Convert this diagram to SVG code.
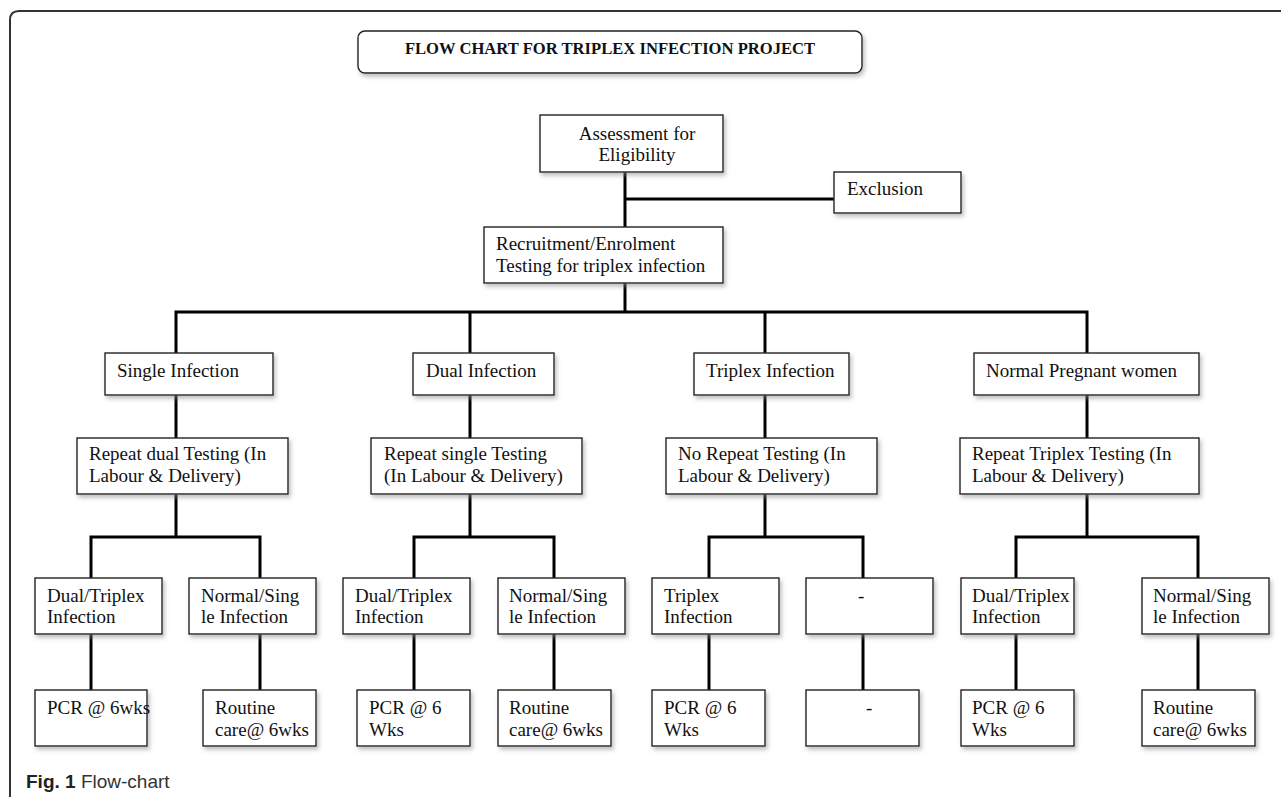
<svg xmlns="http://www.w3.org/2000/svg" width="1281" height="797" viewBox="0 0 1281 797">
<defs>
<filter id="sh" x="-10%" y="-10%" width="130%" height="140%">
<feDropShadow dx="2" dy="3" stdDeviation="2" flood-color="#888" flood-opacity="0.55"/>
</filter>
<style>
.box{fill:#fff;stroke:#222;stroke-width:1.4;filter:url(#sh)}
.t{font-family:"Liberation Serif","Times New Roman",serif;font-size:19px;fill:#111}
.title{font-family:"Liberation Serif","Times New Roman",serif;font-size:16.6px;font-weight:bold;fill:#111}
.c{fill:none;stroke:#000;stroke-width:3;stroke-linecap:square}
.cap{font-family:"Liberation Sans",Arial,sans-serif;font-size:19px;fill:#333}
</style>
</defs>
<rect width="1281" height="797" fill="#fff"/>
<path d="M10 797 L10 20 Q10 11 19 11 L1281 11" fill="none" stroke="#333" stroke-width="2"/>

<g id="connectors">
<path class="c" d="M625 172 V227 M625 199 H834"/>
<path class="c" d="M625 283 V312 M176 312 H1087 M176 312 V353 M470 312 V353 M765 312 V353 M1087 312 V353"/>
<path class="c" d="M176 395 V438 M470 395 V438 M765 395 V438 M1087 395 V438"/>
<path class="c" d="M176 494 V537 M91 537 H260 M91 537 V578 M260 537 V578"/>
<path class="c" d="M470 494 V537 M414 537 H554 M414 537 V578 M554 537 V578"/>
<path class="c" d="M765 494 V537 M709 537 H863 M709 537 V578 M863 537 V578"/>
<path class="c" d="M1087 494 V537 M1016 537 H1198 M1016 537 V578 M1198 537 V578"/>
<path class="c" d="M91 634 V690 M260 634 V690 M414 634 V690 M554 634 V690 M709 634 V690 M863 634 V690 M1016 634 V690 M1198 634 V690"/>
</g>

<g id="title">
<rect class="box" x="358" y="31" width="504" height="42" rx="7"/>
<text class="title" x="610" y="54" text-anchor="middle">FLOW CHART FOR TRIPLEX INFECTION PROJECT</text>
</g>

<g id="assessment">
<rect class="box" x="540" y="115" width="183" height="57"/>
<text class="t" x="637" y="140" text-anchor="middle">Assessment for</text>
<text class="t" x="637" y="161" text-anchor="middle">Eligibility</text>
</g>

<g id="exclusion">
<rect class="box" x="834" y="172" width="127" height="41"/>
<text class="t" x="847" y="195">Exclusion</text>
</g>

<g id="recruitment">
<rect class="box" x="484" y="227" width="239" height="56"/>
<text class="t" x="496" y="250">Recruitment/Enrolment</text>
<text class="t" x="496" y="272">Testing for triplex infection</text>
</g>

<g id="single">
<rect class="box" x="105" y="353" width="168" height="42"/>
<text class="t" x="117" y="377">Single Infection</text>
</g>
<g id="dual">
<rect class="box" x="413" y="353" width="141" height="42"/>
<text class="t" x="426" y="377">Dual Infection</text>
</g>
<g id="triplex">
<rect class="box" x="694" y="353" width="155" height="42"/>
<text class="t" x="706" y="377">Triplex Infection</text>
</g>
<g id="normal">
<rect class="box" x="974" y="353" width="225" height="42"/>
<text class="t" x="986" y="377">Normal Pregnant women</text>
</g>

<g id="repeat-dual">
<rect class="box" x="77" y="438" width="211" height="56"/>
<text class="t" x="89" y="460">Repeat dual Testing (In</text>
<text class="t" x="89" y="482">Labour &amp; Delivery)</text>
</g>
<g id="repeat-single">
<rect class="box" x="371" y="438" width="211" height="56"/>
<text class="t" x="384" y="460">Repeat single Testing</text>
<text class="t" x="384" y="482">(In Labour &amp; Delivery)</text>
</g>
<g id="no-repeat">
<rect class="box" x="666" y="438" width="211" height="56"/>
<text class="t" x="678" y="460">No Repeat Testing (In</text>
<text class="t" x="678" y="482">Labour &amp; Delivery)</text>
</g>
<g id="repeat-triplex">
<rect class="box" x="960" y="438" width="239" height="56"/>
<text class="t" x="972" y="460">Repeat Triplex Testing (In</text>
<text class="t" x="972" y="482">Labour &amp; Delivery)</text>
</g>

<g id="r3-1">
<rect class="box" x="35" y="578" width="127" height="56"/>
<text class="t" x="47" y="602">Dual/Triplex</text>
<text class="t" x="47" y="623">Infection</text>
</g>
<g id="r3-2">
<rect class="box" x="189" y="578" width="127" height="56"/>
<text class="t" x="201" y="602">Normal/Sing</text>
<text class="t" x="201" y="623">le Infection</text>
</g>
<g id="r3-3">
<rect class="box" x="343" y="578" width="127" height="56"/>
<text class="t" x="355" y="602">Dual/Triplex</text>
<text class="t" x="355" y="623">Infection</text>
</g>
<g id="r3-4">
<rect class="box" x="498" y="578" width="127" height="56"/>
<text class="t" x="509" y="602">Normal/Sing</text>
<text class="t" x="509" y="623">le Infection</text>
</g>
<g id="r3-5">
<rect class="box" x="652" y="578" width="127" height="56"/>
<text class="t" x="664" y="602">Triplex</text>
<text class="t" x="664" y="623">Infection</text>
</g>
<g id="r3-6">
<rect class="box" x="806" y="578" width="127" height="56"/>
<text class="t" x="858" y="602">-</text>
</g>
<g id="r3-7">
<rect class="box" x="961" y="578" width="113" height="56"/>
<text class="t" x="972" y="602">Dual/Triplex</text>
<text class="t" x="972" y="623">Infection</text>
</g>
<g id="r3-8">
<rect class="box" x="1142" y="578" width="127" height="56"/>
<text class="t" x="1153" y="602">Normal/Sing</text>
<text class="t" x="1153" y="623">le Infection</text>
</g>

<g id="r4-1">
<rect class="box" x="35" y="690" width="112" height="56"/>
<text class="t" x="47" y="714">PCR @ 6wks</text>
</g>
<g id="r4-2">
<rect class="box" x="203" y="690" width="113" height="56"/>
<text class="t" x="215" y="714">Routine</text>
<text class="t" x="215" y="736">care@ 6wks</text>
</g>
<g id="r4-3">
<rect class="box" x="357" y="690" width="113" height="56"/>
<text class="t" x="369" y="714">PCR @ 6</text>
<text class="t" x="369" y="736">Wks</text>
</g>
<g id="r4-4">
<rect class="box" x="498" y="690" width="113" height="56"/>
<text class="t" x="509" y="714">Routine</text>
<text class="t" x="509" y="736">care@ 6wks</text>
</g>
<g id="r4-5">
<rect class="box" x="652" y="690" width="113" height="56"/>
<text class="t" x="664" y="714">PCR @ 6</text>
<text class="t" x="664" y="736">Wks</text>
</g>
<g id="r4-6">
<rect class="box" x="806" y="690" width="113" height="56"/>
<text class="t" x="866" y="714">-</text>
</g>
<g id="r4-7">
<rect class="box" x="961" y="690" width="113" height="56"/>
<text class="t" x="972" y="714">PCR @ 6</text>
<text class="t" x="972" y="736">Wks</text>
</g>
<g id="r4-8">
<rect class="box" x="1142" y="690" width="113" height="56"/>
<text class="t" x="1153" y="714">Routine</text>
<text class="t" x="1153" y="736">care@ 6wks</text>
</g>

<text class="cap" x="26" y="788"><tspan font-weight="bold" fill="#222">Fig. 1</tspan> Flow-chart</text>
</svg>
